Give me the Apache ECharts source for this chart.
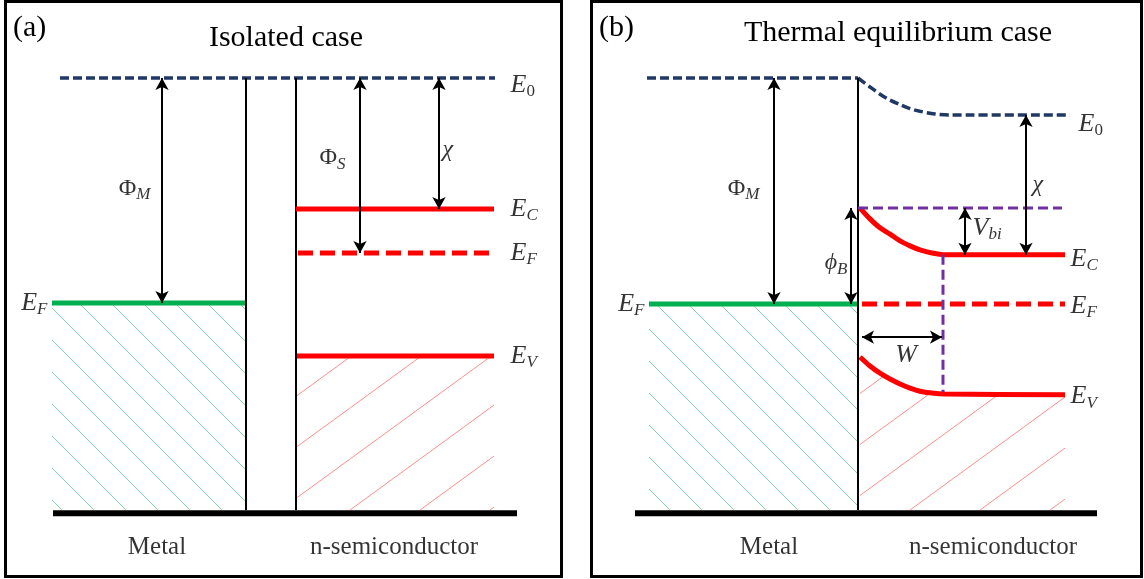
<!DOCTYPE html>
<html>
<head>
<meta charset="utf-8">
<script src="https://cdn.jsdelivr.net/npm/echarts@6/dist/echarts.min.js"></script>
<style>html,body{margin:0;padding:0;background:#fff;}#c{width:1144px;height:579px;}</style>
</head>
<body>
<div id="c"></div>
<script>
// ---------- Panel (a): isolated case (x: position units, y: energy below vacuum, eV) ----------
const vacuumA   = [[5.6, 0], [49.1, 0]];
const metalEdgeA = [[24.2, 0], [24.2, 9.6]];
const semiEdgeA  = [[29.2, 0], [29.2, 9.6]];
const metalEFA  = [[4.8, 5.0], [24.2, 5.0]];
const semiECA   = [[29.2, 2.91], [49.0, 2.91]];
const semiEFA   = [[29.4, 3.89], [49.0, 3.89]];
const semiEVA   = [[29.2, 6.18], [49.0, 6.18]];
const baseA     = [[4.9, 9.67], [51.3, 9.67]];
const arrowsA   = [[15.8, 0, 15.8, 5.0], [35.6, 0, 35.6, 3.89], [43.5, 0, 43.5, 2.91]];
const labelsA = [
  [50.6, 0.15, '{i|E}{z|0}', 'right'],
  [50.6, 2.91, '{i|E}{s|C}', 'right'],
  [50.6, 3.89, '{i|E}{s|F}', 'right'],
  [50.6, 6.18, '{i|E}{s|V}', 'right'],
  [4.4, 5.0, '{i|E}{s|F}', 'left'],
  [14.7, 2.45, '{u|Φ}{s|M}', 'left'],
  [34.2, 1.78, '{u|Φ}{s|S}', 'left'],
  [43.8, 1.6, '{g|χ}', 'right'],
  [15.3, 10.44, '{r|Metal}', 'inside'],
  [39.0, 10.44, '{r|n-semiconductor}', 'inside']
];

// ---------- Panel (b): thermal equilibrium ----------
const vacuumFlatB  = [[5.7, 0], [26.8, 0]];
const vacuumBendB  = [[26.8, 0], [28.0, 0.2], [29.0, 0.36], [30.0, 0.49], [31.0, 0.59], [32.0, 0.68],
                      [33.0, 0.74], [34.5, 0.8], [36.0, 0.82], [48.0, 0.82]];
const interfaceB = [[26.8, 0], [26.8, 9.6]];
const metalEFB  = [[5.9, 5.02], [26.8, 5.02]];
const semiEFB   = [[27.2, 5.02], [47.5, 5.02]];
const semiECB   = [[27.0, 2.89], [28.0, 3.13], [29.0, 3.33], [30.0, 3.47], [31.0, 3.62], [32.0, 3.73],
                   [33.0, 3.82], [34.2, 3.89], [35.5, 3.93], [47.5, 3.93]];
const semiEVB   = [[27.0, 6.2], [28.0, 6.4], [29.0, 6.56], [30.0, 6.69], [31.0, 6.8], [32.0, 6.89],
                   [33.0, 6.96], [34.2, 7.0], [35.5, 7.02], [47.5, 7.04]];
const barrierTopB = [[26.8, 2.89], [47.2, 2.89]];
const depletionEdgeB = [[35.3, 3.93], [35.3, 6.98]];
const baseB     = [[4.5, 9.67], [50.7, 9.67]];
const arrowsB   = [[18.4, 0, 18.4, 5.02], [26.1, 2.89, 26.1, 5.02], [37.5, 2.89, 37.5, 3.93],
                   [43.6, 0.82, 43.6, 3.93], [27.2, 5.76, 35.2, 5.76]];
const labelsB = [
  [48.8, 1.02, '{i|E}{z|0}', 'right'],
  [48.0, 4.02, '{i|E}{s|C}', 'right'],
  [48.0, 5.06, '{i|E}{s|F}', 'right'],
  [48.0, 7.08, '{i|E}{s|V}', 'right'],
  [5.5, 5.02, '{i|E}{s|F}', 'left'],
  [17.0, 2.45, '{u|Φ}{s|M}', 'left'],
  [25.8, 4.11, '{g|ϕ}{s|B}', 'left'],
  [38.2, 3.33, '{i|V}{s|bi}', 'right'],
  [44.2, 2.38, '{g|χ}', 'right'],
  [31.6, 6.16, '{i|W}', 'inside'],
  [17.9, 10.44, '{r|Metal}', 'inside'],
  [40.3, 10.44, '{r|n-semiconductor}', 'inside']
];

const titles = ['(a)', 'Isolated case', '(b)', 'Thermal equilibrium case'];

// ---------- styling ----------
const NAVY = '#1f3864', RED = '#ff0000', GREEN = '#00b050', PURPLE = '#7030a0';
const SERIF = '"Liberation Serif", "DejaVu Serif", serif';

function hatch(w, h, color, down) {
  const c = document.createElement('canvas');
  c.width = w; c.height = h;
  const g = c.getContext('2d');
  g.strokeStyle = color; g.lineWidth = 1;
  for (let k = -1; k <= 1; k++) {
    g.beginPath();
    if (down) { g.moveTo(k * w, 0); g.lineTo(k * w + w, h); }
    else { g.moveTo(k * w, h); g.lineTo(k * w + w, 0); }
    g.stroke();
  }
  return { image: c, repeat: 'repeat' };
}
const greenHatch = hatch(32, 32, 'rgba(0,176,80,0.5)', true);
const redHatch = hatch(70, 51, 'rgba(255,0,0,0.45)', false);

const rich = {
  i: { fontFamily: SERIF, fontStyle: 'italic', fontSize: 26, lineHeight: 30, color: '#000' },
  g: { fontFamily: SERIF, fontStyle: 'italic', fontSize: 24, lineHeight: 30, color: '#000' },
  u: { fontFamily: SERIF, fontSize: 24, lineHeight: 30, color: '#000' },
  s: { fontFamily: SERIF, fontStyle: 'italic', fontSize: 17, lineHeight: 15, verticalAlign: 'bottom', color: '#000' },
  z: { fontFamily: SERIF, fontSize: 17, lineHeight: 15, verticalAlign: 'bottom', color: '#000' },
  r: { fontFamily: SERIF, fontSize: 25, lineHeight: 28, color: '#000' }
};

function line(idx, data, color, width, opts) {
  return Object.assign({
    type: 'line', xAxisIndex: idx, yAxisIndex: idx, data: data,
    showSymbol: false, symbol: 'none', silent: true,
    lineStyle: { color: color, width: width, type: 'solid' }
  }, opts || {});
}
function arrows(list) {
  return {
    silent: true, symbol: ['arrow', 'arrow'], symbolSize: [10, 12],
    label: { show: false },
    lineStyle: { color: '#000', width: 2, type: 'solid' },
    data: list.map(a => [{ coord: [a[0], a[1]] }, { coord: [a[2], a[3]] }])
  };
}
function labels(idx, list) {
  return {
    type: 'scatter', xAxisIndex: idx, yAxisIndex: idx, silent: true,
    symbolSize: 1, itemStyle: { color: 'rgba(0,0,0,0)' },
    data: list.map(l => ({
      value: [l[0], l[1]],
      label: { show: true, position: l[3], distance: 0, color: '#000', formatter: l[2], rich: rich }
    }))
  };
}

const chart = echarts.init(document.getElementById('c'), null, { renderer: 'canvas' });
const yAx = { type: 'value', inverse: true, min: -1, max: 11, show: false };
const dashNavy = { color: NAVY, width: 3.5, type: [9, 4] };
chart.setOption({
  animation: false,
  backgroundColor: '#fff',
  grid: [
    { left: 4, top: 33, width: 560, height: 540 },
    { left: 590, top: 33, width: 550, height: 540 }
  ],
  xAxis: [
    { type: 'value', gridIndex: 0, min: 0, max: 56, show: false },
    { type: 'value', gridIndex: 1, min: 0, max: 55, show: false }
  ],
  yAxis: [Object.assign({ gridIndex: 0 }, yAx), Object.assign({ gridIndex: 1 }, yAx)],
  graphic: [
    { type: 'rect', shape: { x: 5.5, y: 1.5, width: 556, height: 575 }, style: { fill: 'none', stroke: '#000', lineWidth: 3 }, z: 100 },
    { type: 'rect', shape: { x: 591.5, y: 1.5, width: 550, height: 575 }, style: { fill: 'none', stroke: '#000', lineWidth: 3 }, z: 100 },
    { type: 'text', x: 13, y: 28, style: { text: titles[0], font: '30px ' + SERIF, fill: '#000', verticalAlign: 'middle' } },
    { type: 'text', x: 286, y: 38, style: { text: titles[1], font: '30px ' + SERIF, fill: '#000', align: 'center', verticalAlign: 'middle' } },
    { type: 'text', x: 599, y: 28, style: { text: titles[2], font: '30px ' + SERIF, fill: '#000', verticalAlign: 'middle' } },
    { type: 'text', x: 898, y: 33, style: { text: titles[3], font: '30px ' + SERIF, fill: '#000', align: 'center', verticalAlign: 'middle' } }
  ],
  series: [
    // panel a
    line(0, metalEFA, GREEN, 5, { areaStyle: { color: greenHatch, origin: 9.6, opacity: 1 } }),
    line(0, semiEVA, RED, 5, { areaStyle: { color: redHatch, origin: 9.6, opacity: 1 } }),
    line(0, vacuumA, NAVY, 3.5, { lineStyle: dashNavy, markLine: arrows(arrowsA) }),
    line(0, metalEdgeA, '#000', 2),
    line(0, semiEdgeA, '#000', 2),
    line(0, semiECA, RED, 5),
    line(0, semiEFA, RED, 5, { lineStyle: { color: RED, width: 5, type: [15, 7] } }),
    line(0, baseA, '#000', 6),
    labels(0, labelsA),
    // panel b
    line(1, metalEFB, GREEN, 5, { areaStyle: { color: greenHatch, origin: 9.6, opacity: 1 } }),
    line(1, semiEVB, RED, 5, { smooth: 0.3, areaStyle: { color: redHatch, origin: 9.6, opacity: 1 } }),
    line(1, vacuumFlatB, NAVY, 3.5, { lineStyle: dashNavy, markLine: arrows(arrowsB) }),
    line(1, vacuumBendB, NAVY, 3.5, { smooth: 0.3, lineStyle: dashNavy }),
    line(1, interfaceB, '#000', 2),
    line(1, semiECB, RED, 5, { smooth: 0.3 }),
    line(1, semiEFB, RED, 5, { lineStyle: { color: RED, width: 5, type: [15, 7] } }),
    line(1, barrierTopB, PURPLE, 3, { lineStyle: { color: PURPLE, width: 3, type: [10, 5] } }),
    line(1, depletionEdgeB, PURPLE, 3, { lineStyle: { color: PURPLE, width: 3, type: [10, 5] } }),
    line(1, baseB, '#000', 6),
    labels(1, labelsB)
  ]
});
</script>
</body>
</html>
